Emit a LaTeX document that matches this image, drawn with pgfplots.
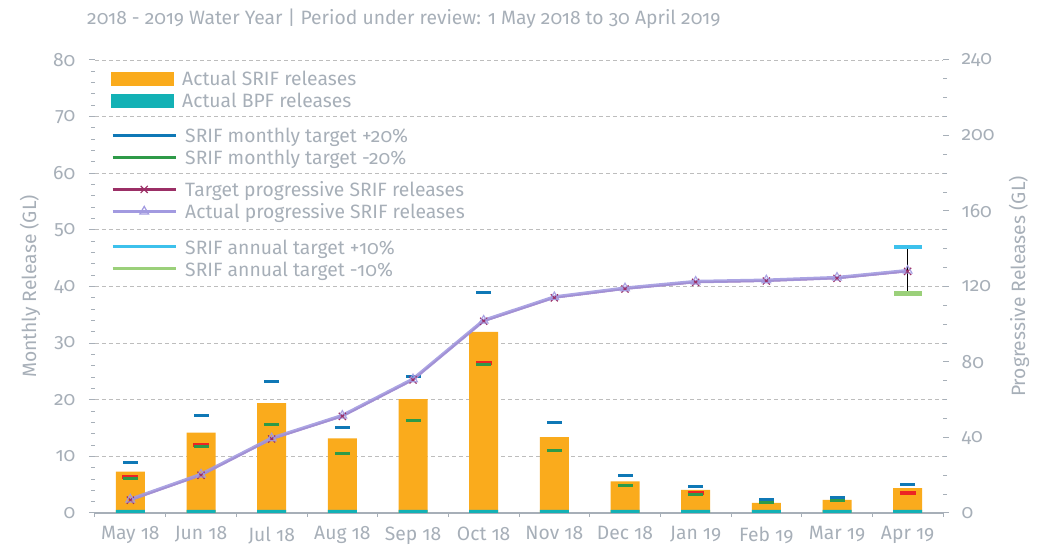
\documentclass[border=0pt]{standalone}
\usepackage{fontspec}
\setmainfont{Fira Sans}[Numbers=OldStyle]
\usepackage{pgfplots}
\pgfplotsset{compat=1.18}
\definecolor{txt}{HTML}{A7AFB8}
\definecolor{gridc}{HTML}{BDBDBD}
\definecolor{srif}{HTML}{FAAB1C}
\definecolor{bpf}{HTML}{13B1B5}
\definecolor{tblue}{HTML}{0F78B6}
\definecolor{tgreen}{HTML}{2E9A48}
\definecolor{tred}{HTML}{EC2424}
\definecolor{tgtp}{HTML}{9B2F66}
\definecolor{actp}{HTML}{A29AE0}
\definecolor{acyan}{HTML}{3DC1EC}
\definecolor{agreen}{HTML}{9BD07A}
\newcommand{\fnt}{\fontsize{19.3pt}{21pt}\selectfont}
\pgfplotsset{
  common/.style={
    at={(0,0)}, anchor=south west,
    scale only axis, width=848pt, height=453pt,
    xmin=-0.5, xmax=11.5,
    /pgf/number format/assume math mode=true,
    tick label style={font=\fnt, text=txt},
    label style={font=\fnt, text=txt},
    tick style={draw=txt, line width=1pt},
    tick align=outside,
    major tick length=6pt, minor tick length=4pt,
  },
  legstyle/.style={legend style={at={(axis description cs:0.0189,#1)}, anchor=north west,
    draw=none, fill=none, inner sep=0pt, row sep=3pt, column sep=8pt,
    font=\fnt, text=txt,
    nodes={inner sep=0pt, text height=14pt, text depth=5pt},
    cells={anchor=base west}}},
  barleg/.style={legend image code/.code={\fill[#1] (0pt,0pt) rectangle (63pt,13.5pt);}},
}
\pgfplotsset{linleg/.code={\pgfplotsset{legend image code/.code={\draw[mark repeat=2,mark phase=2,##1] plot coordinates {(0pt,7.5pt) (31.5pt,7.5pt) (63pt,7.5pt)};}}}}
\begin{document}
\fnt
\begin{tikzpicture}
\begin{axis}[common,
  ymin=0, ymax=80,
  axis x line*=bottom, axis y line*=left,
  x axis line style={draw=txt, line width=1.2pt, -},
  y axis line style={draw=none},
  xtick={0,...,11},
  xticklabels={May 18,Jun 18,Jul 18,Aug 18,Sep 18,Oct 18,Nov 18,Dec 18,Jan 19,Feb 19,Mar 19,Apr 19},
  major x tick style={draw=none},
  minor xtick={-0.5,0.5,...,11.5},
  xticklabel style={yshift=-1pt},
  yticklabel style={xshift=-7pt},
  ytick={0,10,...,80}, minor y tick num=4,
  ymajorgrids, major grid style={draw=gridc, dash pattern=on 4pt off 3pt, line width=0.9pt},
  ylabel={Monthly Release (GL)},
  ylabel style={at={(axis description cs:-0.0767,0.5)}, anchor=center},
  legstyle=0.9742,
]
\addplot[ybar, bar width=29pt, bar shift=0pt, fill=srif, draw=none, forget plot] coordinates {
 (0,7.3) (1,14.2) (2,19.4) (3,13.2) (4,20.1) (5,32.0) (6,13.4) (7,5.6) (8,4.1) (9,1.8) (10,2.3) (11,4.4)};
\addplot[ybar, bar width=29pt, bar shift=0pt, fill=bpf, draw=none, forget plot] coordinates {
 (0,0.55) (1,0.55) (2,0.55) (3,0.55) (4,0.55) (5,0.55) (6,0.55) (7,0.55) (8,0.55) (9,0.55) (10,0.55) (11,0.55)};
\addplot[only marks, mark=-, mark size=8pt, mark options={line width=4pt, draw=tred}, forget plot] coordinates {
 (0,6.3) (1,12.0) (5,26.5) (8,3.5) (11,3.6)};
\addplot[only marks, mark=-, mark size=7.5pt, mark options={line width=3pt, draw=tgreen}, forget plot] coordinates {
 (0,6.1) (1,11.75) (2,15.6) (3,10.5) (4,16.4) (5,26.2) (6,11.0) (7,4.9) (8,3.35) (9,1.9) (10,2.2)};
\addplot[only marks, mark=-, mark size=7.5pt, mark options={line width=3pt, draw=tblue}, forget plot] coordinates {
 (0,8.9) (1,17.2) (2,23.2) (3,15.1) (4,24.1) (5,38.9) (6,16.0) (7,6.6) (8,4.7) (9,2.3) (10,2.8) (11,5.1)};
\addlegendimage{fill=srif, draw=none, barleg}
\addlegendentry{Actual SRIF releases}
\addlegendimage{fill=bpf, draw=none, barleg}
\addlegendentry{Actual BPF releases}
\end{axis}
\begin{axis}[common, hide axis, ymin=0, ymax=1, legstyle=0.8483, linleg]
\addlegendimage{tblue, line width=3pt}
\addlegendentry{SRIF monthly target +20\%}
\addlegendimage{tgreen, line width=3pt}
\addlegendentry{SRIF monthly target -20\%}
\end{axis}
\begin{axis}[common, hide axis, ymin=0, ymax=1, legstyle=0.6026, linleg]
\addlegendimage{acyan, line width=3pt}
\addlegendentry{SRIF annual target +10\%}
\addlegendimage{agreen, line width=3pt}
\addlegendentry{SRIF annual target -10\%}
\end{axis}
\begin{axis}[common,
  ymin=0, ymax=240,
  axis x line=none, axis y line*=right,
  y axis line style={draw=none},
  ytick={0,40,...,240}, minor y tick num=3,
  yticklabel style={xshift=6pt},
  ylabel={Progressive Releases (GL)},
  ylabel style={at={(axis description cs:1.0896,0.5)}, anchor=center},
  legstyle=0.7291, linleg,
]
\addplot[tgtp, line width=1.5pt, mark=x, mark size=5pt, mark options={line width=1.2pt}, forget plot] coordinates {
 (0,6.8) (1,20.0) (2,39.2) (3,51.2) (4,70.5) (5,101.6) (6,114.0) (7,118.7) (8,122.2) (9,122.9) (10,124.3) (11,128.0)};
\addplot[actp, line width=3.5pt, opacity=0.9, mark=triangle, mark size=5pt, mark options={line width=1.2pt}, forget plot] coordinates {
 (0,7.2) (1,20.4) (2,39.6) (3,51.6) (4,70.9) (5,102.0) (6,114.4) (7,119.1) (8,122.6) (9,123.3) (10,124.7) (11,128.4)};
\addplot[black, line width=1.2pt, forget plot] coordinates {(11,116.3) (11,141.0)};
\addplot[only marks, mark=-, mark size=14pt, mark options={line width=4.5pt, draw=acyan}, forget plot] coordinates {(11,141.0)};
\addplot[only marks, mark=-, mark size=14pt, mark options={line width=4.5pt, draw=agreen}, forget plot] coordinates {(11,116.3)};
\addlegendimage{tgtp, line width=3pt, mark=x, mark size=5pt, mark options={line width=1.2pt}}
\addlegendentry{Target progressive SRIF releases}
\addlegendimage{actp, line width=3pt, mark=triangle, mark size=5pt, mark options={line width=1.2pt}}
\addlegendentry{Actual progressive SRIF releases}
\end{axis}
\node[anchor=base west, inner sep=0pt, text=txt, font=\fnt] at (-8pt,488pt) {2018 - 2019 Water Year | Period under review: 1 May 2018 to 30 April 2019};
\pgfresetboundingbox
\path (-95pt,-32pt) rectangle (956pt,513pt);
\end{tikzpicture}
\end{document}
